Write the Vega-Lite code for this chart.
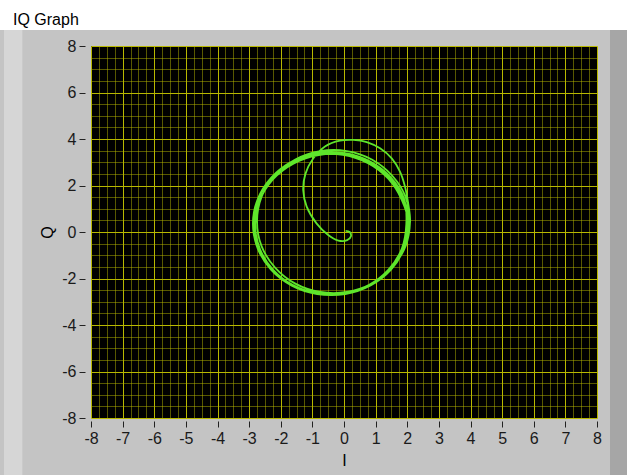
{
  "$schema": "https://vega.github.io/schema/vega-lite/v6.json",
  "width": 506,
  "height": 372,
  "autosize": {"type": "none"},
  "padding": {"left": 91, "top": 46, "right": 30, "bottom": 57},
  "background": "#c4c4c4",
  "title": {"text": "IQ Graph", "anchor": "start", "frame": "group", "dx": -78, "offset": 0, "baseline": "alphabetic", "dy": 41, "font": "Liberation Sans", "fontSize": 16, "fontWeight": "normal", "color": "#000000", "zindex": 1},
  "config": {
    "view": {"fill": "#000000", "stroke": null},
    "axis": {"labelFont": "Liberation Sans", "labelFontSize": 16, "labelColor": "#1a1a1a", "titleFont": "Liberation Sans", "titleFontSize": 16, "titleFontWeight": "normal", "titleColor": "#000000", "domain": false, "tickColor": "#222222", "gridWidth": 1, "gridColor": "#b8b800", "labelOverlap": false, "labelBound": false, "labelFlush": false}
  },
  "resolve": {"scale": {"x": "independent", "y": "independent"}, "axis": {"x": "independent", "y": "independent"}},
  "data": {"values": [
    {"n":0,"I":0.05,"Q":0.05},{"n":1,"I":0.18,"Q":0.0},{"n":2,"I":0.22,"Q":-0.18},{"n":3,"I":0.1,"Q":-0.35},{"n":4,"I":-0.18,"Q":-0.37},
    {"n":5,"I":-0.5,"Q":-0.13},{"n":6,"I":-0.87,"Q":0.37},{"n":7,"I":-1.18,"Q":1.09},{"n":8,"I":-1.29,"Q":1.8},{"n":9,"I":-1.22,"Q":2.5},
    {"n":10,"I":-0.98,"Q":3.15},{"n":11,"I":-0.6,"Q":3.68},{"n":12,"I":-0.13,"Q":3.93},{"n":13,"I":0.3,"Q":3.96},{"n":14,"I":0.72,"Q":3.87},
    {"n":15,"I":1.14,"Q":3.6},{"n":16,"I":1.51,"Q":3.17},{"n":17,"I":1.77,"Q":2.6},{"n":18,"I":1.93,"Q":1.95},{"n":19,"I":2.03,"Q":1.23},
    {"n":20,"I":2.09,"Q":0.45},{"n":21,"I":1.95,"Q":-0.6},{"n":22,"I":1.52,"Q":-1.53},{"n":23,"I":0.88,"Q":-2.22},{"n":24,"I":0.09,"Q":-2.58},{"n":25,"I":-0.75,"Q":-2.58},
    {"n":26,"I":-1.54,"Q":-2.22},{"n":27,"I":-2.18,"Q":-1.53},{"n":28,"I":-2.61,"Q":-0.6},{"n":29,"I":-2.75,"Q":0.45},{"n":30,"I":-2.61,"Q":1.5},{"n":31,"I":-2.18,"Q":2.43},
    {"n":32,"I":-1.54,"Q":3.12},{"n":33,"I":-0.75,"Q":3.48},{"n":34,"I":0.09,"Q":3.48},{"n":35,"I":0.88,"Q":3.12},{"n":36,"I":1.52,"Q":2.43},{"n":37,"I":1.95,"Q":1.5},
    {"n":38,"I":2.05,"Q":0.38},{"n":39,"I":1.9,"Q":-0.67},{"n":40,"I":1.48,"Q":-1.59},{"n":41,"I":0.83,"Q":-2.27},{"n":42,"I":0.03,"Q":-2.63},{"n":43,"I":-0.83,"Q":-2.63},
    {"n":44,"I":-1.63,"Q":-2.27},{"n":45,"I":-2.28,"Q":-1.59},{"n":46,"I":-2.7,"Q":-0.67},{"n":47,"I":-2.85,"Q":0.38},{"n":48,"I":-2.7,"Q":1.43},{"n":49,"I":-2.28,"Q":2.35},
    {"n":50,"I":-1.63,"Q":3.03},{"n":51,"I":-0.83,"Q":3.39},{"n":52,"I":0.03,"Q":3.39},{"n":53,"I":0.83,"Q":3.03},{"n":54,"I":1.48,"Q":2.35},{"n":55,"I":1.9,"Q":1.43},
    {"n":56,"I":1.97,"Q":0.33},{"n":57,"I":1.83,"Q":-0.71},{"n":58,"I":1.4,"Q":-1.63},{"n":59,"I":0.76,"Q":-2.3},{"n":60,"I":-0.03,"Q":-2.66},{"n":61,"I":-0.87,"Q":-2.66},
    {"n":62,"I":-1.66,"Q":-2.3},{"n":63,"I":-2.3,"Q":-1.63},{"n":64,"I":-2.73,"Q":-0.71},{"n":65,"I":-2.87,"Q":0.33},{"n":66,"I":-2.73,"Q":1.37},{"n":67,"I":-2.3,"Q":2.29},
    {"n":68,"I":-1.66,"Q":2.96},{"n":69,"I":-0.87,"Q":3.32},{"n":70,"I":-0.03,"Q":3.32},{"n":71,"I":0.76,"Q":2.96},{"n":72,"I":1.4,"Q":2.29},{"n":73,"I":1.83,"Q":1.37},
    {"n":74,"I":2.04,"Q":0.36},{"n":75,"I":1.89,"Q":-0.69},{"n":76,"I":1.46,"Q":-1.62},{"n":77,"I":0.81,"Q":-2.31},{"n":78,"I":0.01,"Q":-2.67},{"n":79,"I":-0.85,"Q":-2.67},
    {"n":80,"I":-1.65,"Q":-2.31},{"n":81,"I":-2.3,"Q":-1.62},{"n":82,"I":-2.73,"Q":-0.69},{"n":83,"I":-2.88,"Q":0.36},{"n":84,"I":-2.73,"Q":1.41},{"n":85,"I":-2.3,"Q":2.34},
    {"n":86,"I":-1.65,"Q":3.03},{"n":87,"I":-0.85,"Q":3.39},{"n":88,"I":0.01,"Q":3.39},{"n":89,"I":0.81,"Q":3.03},{"n":90,"I":1.46,"Q":2.34},{"n":91,"I":1.89,"Q":1.41},
    {"n":92,"I":2.05,"Q":0.32},{"n":93,"I":1.9,"Q":-0.72},{"n":94,"I":1.48,"Q":-1.63},{"n":95,"I":0.84,"Q":-2.3},{"n":96,"I":0.04,"Q":-2.67},{"n":97,"I":-0.8,"Q":-2.67},
    {"n":98,"I":-1.6,"Q":-2.3},{"n":99,"I":-2.24,"Q":-1.63},{"n":100,"I":-2.66,"Q":-0.72},{"n":101,"I":-2.81,"Q":0.32},{"n":102,"I":-2.66,"Q":1.36},{"n":103,"I":-2.24,"Q":2.27},
    {"n":104,"I":-1.6,"Q":2.94},{"n":105,"I":-0.8,"Q":3.31},{"n":106,"I":0.04,"Q":3.31},{"n":107,"I":0.84,"Q":2.94},{"n":108,"I":1.48,"Q":2.27},{"n":109,"I":1.9,"Q":1.36},
    {"n":110,"I":2.02,"Q":0.35},{"n":111,"I":1.87,"Q":-0.7},{"n":112,"I":1.45,"Q":-1.62},{"n":113,"I":0.8,"Q":-2.3},{"n":114,"I":0.0,"Q":-2.66},{"n":115,"I":-0.86,"Q":-2.66},
    {"n":116,"I":-1.66,"Q":-2.3},{"n":117,"I":-2.31,"Q":-1.62},{"n":118,"I":-2.73,"Q":-0.7},{"n":119,"I":-2.88,"Q":0.35},{"n":120,"I":-2.73,"Q":1.4},{"n":121,"I":-2.31,"Q":2.32},
    {"n":122,"I":-1.66,"Q":3.0},{"n":123,"I":-0.86,"Q":3.36},{"n":124,"I":0.0,"Q":3.36},{"n":125,"I":0.8,"Q":3.0},{"n":126,"I":1.45,"Q":2.32},{"n":127,"I":1.87,"Q":1.4},
    {"n":128,"I":2.02,"Q":0.35}
  ]},
  "layer": [
    {
      "mark": {"type": "line", "color": "#5ee62b", "strokeWidth": 1.8, "interpolate": "catmull-rom"},
      "encoding": {
        "x": {"field": "I", "type": "quantitative", "scale": {"domain": [-8, 8], "nice": false, "zero": false},
          "axis": {"title": "I", "orient": "bottom", "offset": 3, "tickSize": 6, "labelPadding": 3, "titlePadding": 6,
            "values": [-8,-7.75,-7.5,-7.25,-7,-6.75,-6.5,-6.25,-6,-5.75,-5.5,-5.25,-5,-4.75,-4.5,-4.25,-4,-3.75,-3.5,-3.25,-3,-2.75,-2.5,-2.25,-2,-1.75,-1.5,-1.25,-1,-0.75,-0.5,-0.25,0,0.25,0.5,0.75,1,1.25,1.5,1.75,2,2.25,2.5,2.75,3,3.25,3.5,3.75,4,4.25,4.5,4.75,5,5.25,5.5,5.75,6,6.25,6.5,6.75,7,7.25,7.5,7.75,8],
            "labelExpr": "abs(datum.value - round(datum.value)) < 0.001 ? '' + round(datum.value) : ''",
            "tickOpacity": {"condition": {"test": "abs(datum.value - round(datum.value)) < 0.001", "value": 1}, "value": 0},
            "gridOpacity": {"condition": {"test": "abs(datum.value - round(datum.value)) < 0.001", "value": 1}, "value": 0.48}}},
        "y": {"field": "Q", "type": "quantitative", "scale": {"domain": [-8, 8], "nice": false, "zero": false},
          "axis": {"title": "Q", "orient": "left", "offset": 6, "tickSize": 6, "labelPadding": 3, "titlePadding": 6,
            "values": [-8,-7.5,-7,-6.5,-6,-5.5,-5,-4.5,-4,-3.5,-3,-2.5,-2,-1.5,-1,-0.5,0,0.5,1,1.5,2,2.5,3,3.5,4,4.5,5,5.5,6,6.5,7,7.5,8],
            "labelExpr": "abs(datum.value / 2 - round(datum.value / 2)) < 0.001 ? '' + round(datum.value) : ''",
            "tickOpacity": {"condition": {"test": "abs(datum.value / 2 - round(datum.value / 2)) < 0.001", "value": 1}, "value": 0},
            "gridOpacity": {"condition": {"test": "abs(datum.value / 2 - round(datum.value / 2)) < 0.001", "value": 1}, "value": 0.48}}},
        "order": {"field": "n", "type": "quantitative"}
      }
    },
    {
      "mark": {"type": "rect", "color": "#ffffff"},
      "encoding": {
        "x": {"datum": -12, "type": "quantitative", "scale": {"domain": [-8, 8], "nice": false, "zero": false}, "axis": null},
        "x2": {"datum": 10},
        "y": {"datum": 9.97, "type": "quantitative", "scale": {"domain": [-8, 8], "nice": false, "zero": false}, "axis": null},
        "y2": {"datum": 8.69}
      }
    },
    {
      "mark": {"type": "rect", "color": "#d6d6d6"},
      "encoding": {
        "x": {"datum": -10.75, "type": "quantitative", "scale": {"domain": [-8, 8], "nice": false, "zero": false}, "axis": null},
        "x2": {"datum": -10.18},
        "y": {"datum": 8.69, "type": "quantitative", "scale": {"domain": [-8, 8], "nice": false, "zero": false}, "axis": null},
        "y2": {"datum": -11}
      }
    },
    {
      "mark": {"type": "rect", "color": "#a6a6a6"},
      "encoding": {
        "x": {"datum": 8.43, "type": "quantitative", "scale": {"domain": [-8, 8], "nice": false, "zero": false}, "axis": null},
        "x2": {"datum": 10},
        "y": {"datum": 8.69, "type": "quantitative", "scale": {"domain": [-8, 8], "nice": false, "zero": false}, "axis": null},
        "y2": {"datum": -11}
      }
    }
  ]
}
